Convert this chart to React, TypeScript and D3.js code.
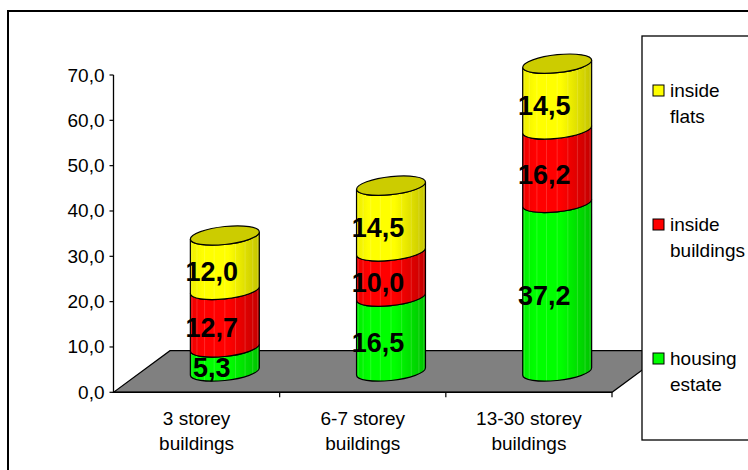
import * as d3 from "d3";

const categories = ["3 storey buildings", "6-7 storey buildings", "13-30 storey buildings"];
const categoryLines = [
  ["3 storey", "buildings"],
  ["6-7 storey", "buildings"],
  ["13-30 storey", "buildings"],
];
const housingEstate = [5.3, 16.5, 37.2];
const insideBuildings = [12.7, 10.0, 16.2];
const insideFlats = [12.0, 14.5, 14.5];
const yTicks = [0, 10, 20, 30, 40, 50, 60, 70];

const seriesNames = ["housing estate", "inside buildings", "inside flats"];
const seriesValues = [housingEstate, insideBuildings, insideFlats];
const legendLines = [
  ["inside", "flats"],
  ["inside", "buildings"],
  ["housing", "estate"],
];

const W = 748;
const H = 470;
const FONT = "'Liberation Sans', Arial, sans-serif";

// colours: [bright, dark, top face]
const COLORS = [
  { id: "g", base: "#00ff00", dark: "#00c400", top: "#00cc00" },
  { id: "r", base: "#ff0000", dark: "#c40000", top: "#cc0000" },
  { id: "y", base: "#ffff00", dark: "#c4c400", top: "#cccc00" },
];
const LEGEND_COLORS = ["#ffff00", "#ff0000", "#00ff00"];

const PLOT = { left: 113.5, right: 612, top: 75, bottom: 392.3 };
const DEPTH = { dx: 56.5, dy: -41.6 };
const SKEW = -5.9;

const fmt = (v: number) => d3.format(".1f")(v).replace(".", ",");

export default function App() {
  const x = d3
    .scaleBand<string>()
    .domain(categories)
    .range([PLOT.left, PLOT.right]);
  const y = d3.scaleLinear().domain([0, 70]).range([PLOT.bottom, PLOT.top]);

  const rx = x.bandwidth() * 0.2075;
  const ry = 9;
  const y0 = y(0);

  // floor parallelogram
  const floor = [
    [PLOT.left, y0],
    [PLOT.right, y0],
    [PLOT.right + DEPTH.dx, y0 + DEPTH.dy],
    [PLOT.left + DEPTH.dx, y0 + DEPTH.dy],
  ];

  const segPath = (yt: number, yb: number) =>
    `M${-rx},${yt}L${-rx},${yb}A${rx},${ry} 0 0 0 ${rx},${yb}L${rx},${yt}A${rx},${ry} 0 0 1 ${-rx},${yt}Z`;

  const facets = d3.range(1, 10).map((k) => rx * Math.cos((k * Math.PI) / 10));

  return (
    <svg
      width={W}
      height={H}
      style={{ position: "absolute", left: 0, top: 0, background: "#fff" }}
      fontFamily={FONT}
    >
      <defs>
        {COLORS.map((c) => (
          <linearGradient key={c.id} id={`grad-${c.id}`} x1="0" x2="1" y1="0" y2="0">
            <stop offset="0" stopColor={d3.interpolateRgb(c.base, c.dark)(0.3)} />
            <stop offset="0.18" stopColor={c.base} />
            <stop offset="0.55" stopColor={c.base} />
            <stop offset="1" stopColor={c.dark} />
          </linearGradient>
        ))}
      </defs>

      {/* floor */}
      <polygon
        points={floor.map((p) => p.join(",")).join(" ")}
        fill="#808080"
        stroke="#000"
        strokeWidth={1.2}
      />

      {/* y axis */}
      <line x1={PLOT.left} x2={PLOT.left} y1={PLOT.top} y2={y0} stroke="#000" strokeWidth={1.3} />
      {yTicks.map((t) => (
        <g key={t}>
          <line x1={PLOT.left - 4} x2={PLOT.left} y1={y(t)} y2={y(t)} stroke="#000" strokeWidth={1.2} />
          <text
            x={PLOT.left - 9}
            y={y(t)}
            textAnchor="end"
            dominantBaseline="central"
            fontSize={19}
            fill="#000"
          >
            {fmt(t)}
          </text>
        </g>
      ))}

      {/* x axis */}
      <line x1={PLOT.left} x2={PLOT.right} y1={y0} y2={y0} stroke="#000" strokeWidth={1.5} />
      {categories.map((c, i) => {
        const bx = (x(c) ?? 0) + x.bandwidth();
        const cx = (x(c) ?? 0) + x.bandwidth() / 2;
        return (
          <g key={c}>
            <line x1={bx} x2={bx} y1={y0} y2={y0 + 5} stroke="#000" strokeWidth={1.2} />
            {categoryLines[i].map((line, j) => (
              <text key={j} x={cx} y={424.5 + j * 25.5} textAnchor="middle" fontSize={19} fill="#000">
                {line}
              </text>
            ))}
          </g>
        );
      })}

      {/* cylinders */}
      {categories.map((c, i) => {
        const cx = (x(c) ?? 0) + x.bandwidth() / 2 + DEPTH.dx / 2;
        const baseY = y0 + DEPTH.dy / 2;
        let cum = 0;
        const segs = seriesValues.map((vals, s) => {
          const v0 = cum;
          cum += vals[i];
          return { s, v0, v1: cum, value: vals[i] };
        });
        const topSeg = segs[segs.length - 1];
        return (
          <g key={c}>
            <g transform={`translate(${cx},${baseY}) skewY(${SKEW})`}>
              {segs.map((sg) => {
                const yt = y(sg.v1) - y0;
                const yb = y(sg.v0) - y0;
                return (
                  <g key={sg.s}>
                    <path d={segPath(yt, yb)} fill={`url(#grad-${COLORS[sg.s].id})`} />
                    {facets.map((fx, k) => {
                      const off = ry * Math.sqrt(Math.max(0, 1 - (fx / rx) ** 2));
                      return (
                        <line
                          key={k}
                          x1={fx}
                          x2={fx}
                          y1={yt + off}
                          y2={yb + off}
                          stroke="#fff"
                          strokeOpacity={0.22}
                          strokeWidth={0.7}
                        />
                      );
                    })}
                    <path d={segPath(yt, yb)} fill="none" stroke="#000" strokeWidth={1.2} />
                  </g>
                );
              })}
              <ellipse
                cx={0}
                cy={y(topSeg.v1) - y0}
                rx={rx}
                ry={ry}
                fill={COLORS[topSeg.s].top}
                stroke="#000"
                strokeWidth={1.2}
              />
            </g>
            {segs.map((sg) => (
              <text
                key={sg.s}
                x={cx - 13}
                y={baseY + (y((sg.v0 + sg.v1) / 2) - y0) + 9}
                textAnchor="middle"
                dominantBaseline="central"
                fontSize={27}
                fontWeight="bold"
                fill="#000"
              >
                {fmt(sg.value)}
              </text>
            ))}
          </g>
        );
      })}

      {/* legend */}
      <rect x={642} y={36} width={200} height={404} fill="#fff" stroke="#000" strokeWidth={1.3} />
      {legendLines.map((lines, i) => {
        const cy = 90.5 + i * 134;
        return (
          <g key={seriesNames[2 - i]}>
            <rect x={653} y={cy - 5.5} width={11} height={11} fill={LEGEND_COLORS[i]} stroke="#000" strokeWidth={1} />
            {lines.map((t, j) => (
              <text key={j} x={670} y={cy + 6.5 + j * 26} fontSize={19} fill="#000">
                {t}
              </text>
            ))}
          </g>
        );
      })}

      {/* chart border */}
      <rect x={8} y={11} width={800} height={500} fill="none" stroke="#000" strokeWidth={2} />
    </svg>
  );
}
